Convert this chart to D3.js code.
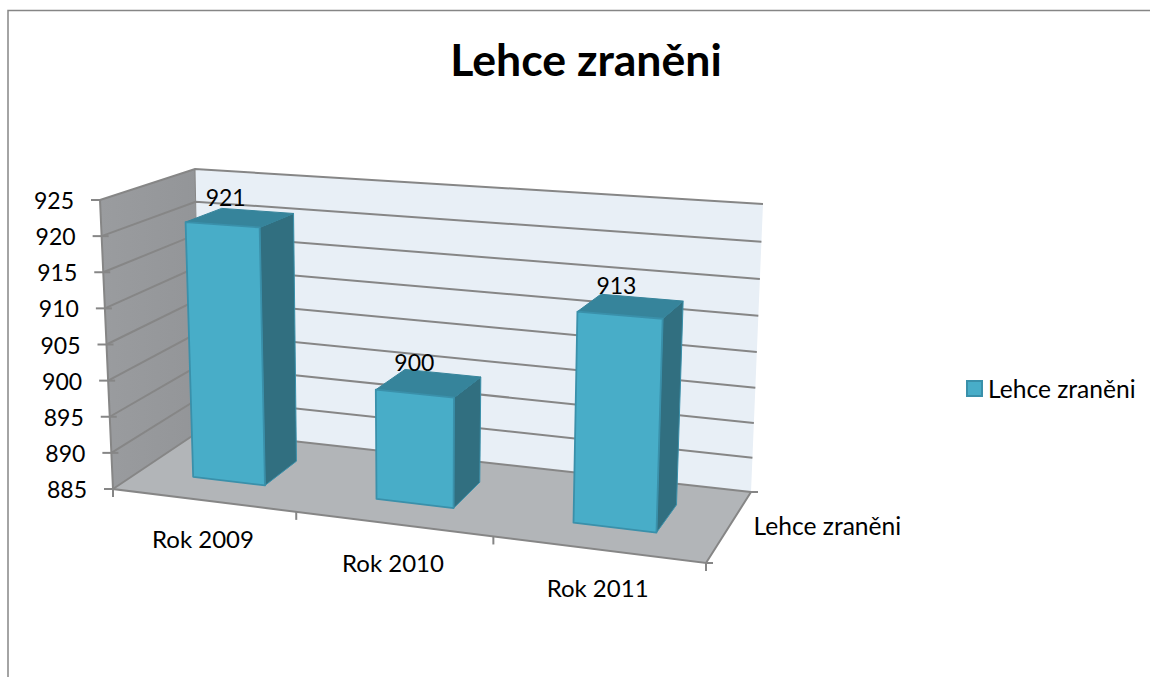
<!DOCTYPE html>
<html>
<head>
<meta charset="utf-8">
<script src="https://cdn.jsdelivr.net/npm/d3@7/dist/d3.min.js"></script>
<style>
html,body{margin:0;padding:0;background:#fff;overflow:hidden}
text{font-family:Lato,"Open Sans",sans-serif;fill:#000}
</style>
</head>
<body>
<svg id="c" width="1150" height="677"></svg>
<script>
const chartTitle = "Lehce zraněni";
const seriesName = "Lehce zraněni";
const categories = ["Rok 2009", "Rok 2010", "Rok 2011"];
const values = [921, 900, 913];
const valueTicks = [885, 890, 895, 900, 905, 910, 915, 920, 925];

// Camera frame of the 3D box: [front-left, front-right, back-right, back-left]
const floorQuad = [[113,489],[706,563],[751,492],[200,430.7]];
const ceilQuad  = [[100,200],[717,242.5],[763,204],[195,169]];

function homography(q){
  const [[x0,y0],[x1,y1],[x2,y2],[x3,y3]] = q;
  const dx1=x1-x2, dx2=x3-x2, sx=x0-x1+x2-x3, dy1=y1-y2, dy2=y3-y2, sy=y0-y1+y2-y3;
  const den=dx1*dy2-dx2*dy1, g=(sx*dy2-dx2*sy)/den, h=(dx1*sy-sx*dy1)/den;
  const a=x1-x0+g*x1, b=x3-x0+h*x3, d=y1-y0+g*y1, e=y3-y0+h*y3;
  return (u,w)=>{const k=g*u+h*w+1; return [(a*u+b*w+x0)/k,(d*u+e*w+y0)/k];};
}
const H0=homography(floorQuad), H1=homography(ceilQuad);
const yScale=d3.scaleLinear().domain([885,925]).range([0,1]);
const xScale=d3.scaleBand().domain(categories).range([0,1]).paddingInner(0.6).paddingOuter(0.3);
const zFront=0.3, zBack=0.7;
function P(u,val,w){
  let t=yScale(val);
  t -= 0.055*u*w*t*(1-t);           // slight vertical foreshortening toward the far right corner
  const a=H0(u,w), b=H1(u,w);
  return [a[0]+(b[0]-a[0])*t, a[1]+(b[1]-a[1])*t];
}
const line=d3.line(), poly=pts=>line(pts)+"Z";
const svg=d3.select("#c");

// outer frame
const frame="#868686";
svg.append("path").attr("d","M8,677V10.5H1150").attr("fill","none").attr("stroke",frame).attr("stroke-width",1.5);

const vMin=valueTicks[0], vMax=valueTicks[valueTicks.length-1];
// walls + floor
const defs=svg.append("defs");
const lg=defs.append("linearGradient").attr("id","wallL").attr("x1",0).attr("x2",1).attr("y1",0).attr("y2",0);
lg.append("stop").attr("offset",0).attr("stop-color","#9a9c9f");
lg.append("stop").attr("offset",1).attr("stop-color","#939598");
svg.append("path").attr("d",poly([P(0,vMin,0),P(0,vMax,0),P(0,vMax,1),P(0,vMin,1)])).attr("fill","url(#wallL)");
svg.append("path").attr("d",poly([P(0,vMin,1),P(0,vMax,1),P(1,vMax,1),P(1,vMin,1)])).attr("fill","#e8eff6");
svg.append("path").attr("d",poly([P(0,vMin,0),P(1,vMin,0),P(1,vMin,1),P(0,vMin,1)])).attr("fill","#b2b5b8");

// gridlines
valueTicks.forEach(v=>{
  svg.append("path").attr("d",line([P(0,v,0),P(0,v,1),P(1,v,1)]))
    .attr("fill","none").attr("stroke",frame).attr("stroke-width",2);
});
// axis lines
const axis=svg.append("g").attr("fill","none").attr("stroke",frame).attr("stroke-width",2);
axis.append("path").attr("d",line([P(0,vMax,0),P(0,vMin,0),P(1,vMin,0),P(1,vMin,1)]));
axis.append("path").attr("d",line([P(0,vMin,1),P(0,vMax,1)])).attr("stroke-width",1);
valueTicks.forEach(v=>{
  const p=P(0,v,0), inner=(v===vMin||v===vMax)?0:7;
  axis.append("path").attr("d",line([[p[0]-9,p[1]],[p[0]+inner,p[1]]]));
});
d3.range(0,categories.length+1).forEach(i=>{
  const p=P(i/categories.length,vMin,0);
  axis.append("path").attr("d",line([p,[p[0],p[1]+8]]));
});
[0,1].forEach(w=>{
  const p=P(1,vMin,w);
  axis.append("path").attr("d",line([p,[p[0]+7,p[1]]]));
});

// tick labels
valueTicks.forEach(v=>{
  const p=P(0,v,0);
  svg.append("text").attr("x",p[0]-26).attr("y",p[1]+9).attr("text-anchor","end")
    .attr("font-size",23).text(v);
});
categories.forEach(c=>{
  const p=P(xScale(c)+xScale.bandwidth()/2,vMin,0);
  svg.append("text").attr("x",p[0]).attr("y",p[1]+48).attr("text-anchor","middle")
    .attr("font-size",24).text(c);
});
const zp=P(1,vMin,0.5);
svg.append("text").attr("x",zp[0]+24).attr("y",zp[1]+9).attr("font-size",24.6).text(seriesName);

// bars
const cFront="#48adc8", cSide="#316f80", cTop="#36849b", cEdge="#3a90aa";
categories.forEach((c,i)=>{
  const u0=xScale(c), u1=u0+xScale.bandwidth(), v=values[i];
  const g=svg.append("g").attr("stroke-linejoin","round");
  g.append("path").attr("d",poly([P(u1,vMin,zFront),P(u1,vMin,zBack),P(u1,v,zBack),P(u1,v,zFront)]))
    .attr("fill",cSide).attr("stroke",cEdge).attr("stroke-width",1);
  g.append("path").attr("d",poly([P(u0,v,zFront),P(u1,v,zFront),P(u1,v,zBack),P(u0,v,zBack)]))
    .attr("fill",cTop).attr("stroke",cTop).attr("stroke-width",1);
  g.append("path").attr("d",poly([P(u0,vMin,zFront),P(u1,vMin,zFront),P(u1,v,zFront),P(u0,v,zFront)]))
    .attr("fill",cFront).attr("stroke",cEdge).attr("stroke-width",1.8);
  const m=P((u0+u1)/2,v,(zFront+zBack)/2);
  svg.append("text").attr("x",m[0]-14.5).attr("y",m[1]-12).attr("text-anchor","middle")
    .attr("font-size",23).text(v);
});

// title
svg.append("text").attr("x",586).attr("y",76).attr("text-anchor","middle")
  .attr("font-size",44.6).attr("font-weight",700).text(chartTitle);

// legend
svg.append("rect").attr("x",967).attr("y",381).attr("width",15).attr("height",15)
  .attr("fill",cFront).attr("stroke",cEdge).attr("stroke-width",2);
svg.append("text").attr("x",988).attr("y",398).attr("font-size",24.6).text(seriesName);
</script>
</body>
</html>
